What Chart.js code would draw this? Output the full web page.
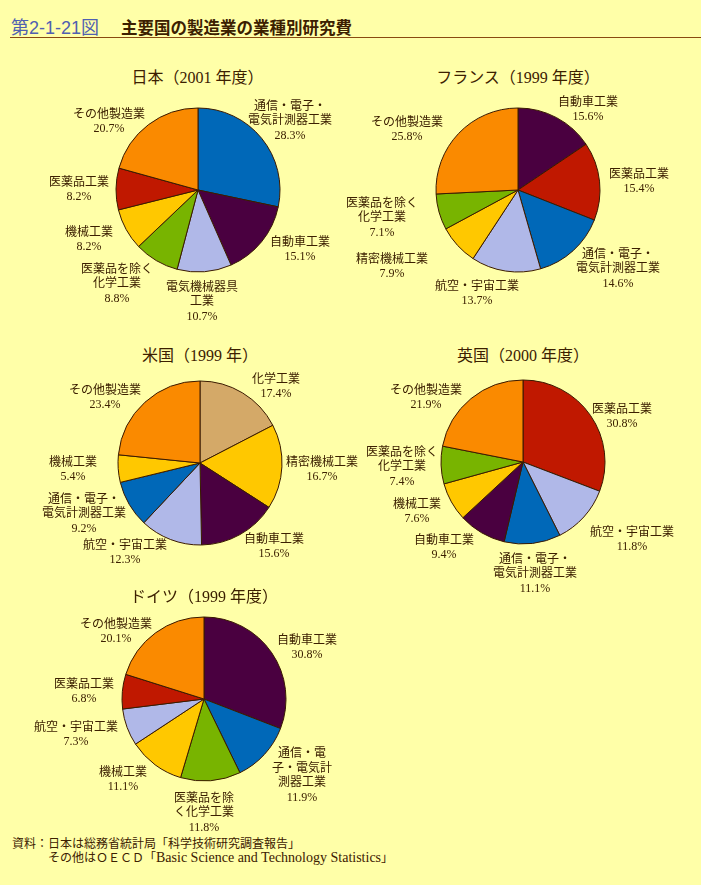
<!DOCTYPE html>
<html>
<head>
<meta charset="utf-8">
<script src="https://cdn.jsdelivr.net/npm/chart.js@4.4.0/dist/chart.umd.min.js"></script>
<style>
body{margin:0;background:#FFFFA8;width:701px;height:885px;position:relative;overflow:hidden;
  font-family:'Liberation Serif','Noto Sans CJK JP',serif;color:#3C2000;}
#head{position:absolute;left:11px;top:13px;font-family:'Noto Sans CJK JP',sans-serif;font-size:16.5px;font-weight:bold;white-space:nowrap;}
#head .no{font-family:'Liberation Sans','Noto Sans CJK JP',sans-serif;color:#5060B0;font-weight:normal;font-size:18px;margin-right:22px;}
#rule{position:absolute;left:10px;right:0;top:37px;border-top:1px solid #8A4A10;}
.ttl{position:absolute;font-size:16px;transform:translateX(-50%);white-space:nowrap;}
canvas{position:absolute;}
#foot{position:absolute;left:12px;top:837px;font-size:12px;line-height:14px;white-space:nowrap;}
#foot .l2{padding-left:36px;}
#foot .en{font-size:14px;}
</style>
</head>
<body>
<div id="head"><span class="no">第2-1-21図</span>主要国の製造業の業種別研究費</div>
<div id="rule"></div>
<div id="foot">資料：日本は総務省統計局「科学技術研究調査報告」<br><span class="l2">その他はＯＥＣＤ「<span class="en">Basic Science and Technology Statistics</span>」</span></div>

<script>
// colours by industry
var C_BLUE='#0068B8', C_PURPLE='#4A0040', C_LAV='#B0B8E8', C_GREEN='#78B400',
    C_YELLOW='#FFC800', C_RED='#C01800', C_ORANGE='#FA8A00', C_TAN='#D4A968';

// 日本（2001年度）
var jpLabels = ['通信・電子・\n電気計測器工業','自動車工業','電気機械器具\n工業','医薬品を除く\n化学工業','機械工業','医薬品工業','その他製造業'];
var jpValues = [28.3, 15.1, 10.7, 8.8, 8.2, 8.2, 20.7];
var jpColors = [C_BLUE, C_PURPLE, C_LAV, C_GREEN, C_YELLOW, C_RED, C_ORANGE];

// フランス（1999年度）
var frLabels = ['自動車工業','医薬品工業','通信・電子・\n電気計測器工業','航空・宇宙工業','精密機械工業','医薬品を除く\n化学工業','その他製造業'];
var frValues = [15.6, 15.4, 14.6, 13.7, 7.9, 7.1, 25.8];
var frColors = [C_PURPLE, C_RED, C_BLUE, C_LAV, C_YELLOW, C_GREEN, C_ORANGE];

// 米国（1999年）
var usLabels = ['化学工業','精密機械工業','自動車工業','航空・宇宙工業','通信・電子・\n電気計測器工業','機械工業','その他製造業'];
var usValues = [17.4, 16.7, 15.6, 12.3, 9.2, 5.4, 23.4];
var usColors = [C_TAN, C_YELLOW, C_PURPLE, C_LAV, C_BLUE, C_YELLOW, C_ORANGE];

// 英国（2000年度）
var ukLabels = ['医薬品工業','航空・宇宙工業','通信・電子・\n電気計測器工業','自動車工業','機械工業','医薬品を除く\n化学工業','その他製造業'];
var ukValues = [30.8, 11.8, 11.1, 9.4, 7.6, 7.4, 21.9];
var ukColors = [C_RED, C_LAV, C_BLUE, C_PURPLE, C_YELLOW, C_GREEN, C_ORANGE];

// ドイツ（1999年度）
var deLabels = ['自動車工業','通信・電\n子・電気計\n測器工業','医薬品を除\nく化学工業','機械工業','航空・宇宙工業','医薬品工業','その他製造業'];
var deValues = [30.8, 11.9, 11.8, 11.1, 7.3, 6.8, 20.1];
var deColors = [C_PURPLE, C_BLUE, C_GREEN, C_YELLOW, C_LAV, C_RED, C_ORANGE];

// where each label block sits, relative to the pie centre (layout only)
var jpLabelPos = [[92,-69],[102,60],[4,112],[-81,94],[-109,50],[-119,0],[-89,-68]];
var frLabelPos = [[70,-80],[121,-8],[100,79],[-41,104],[-126,77],[-136,28],[-111,-60]];
var usLabelPos = [[76,-76],[122,7],[74,84],[-75,90],[-116,51],[-127,7],[-95,-65]];
var ukLabelPos = [[99,-45],[109,78],[12,112],[-79,86],[-106,50],[-121,5],[-97,-64]];
var deLabelPos = [[103,-51],[98,77],[0,114],[-81,81],[-128,36],[-120,-7],[-88,-67]];

var W = 360, H = 270;

// labels outside each slice: name lines + percent
var outLabels = {
  id: 'outLabels',
  afterDatasetsDraw: function(chart, args, opts){
    var ctx = chart.ctx;
    var meta = chart.getDatasetMeta(0);
    var vals = chart.data.datasets[0].data;
    ctx.save();
    ctx.font = "12px 'Liberation Serif','Noto Sans CJK JP'";
    ctx.fillStyle = '#3C2000';
    ctx.textAlign = 'center';
    ctx.textBaseline = 'middle';
    var lh = 14.5;
    meta.data.forEach(function(arc, i){
      var p = arc.getProps(['x','y'], true);
      var lines = chart.data.labels[i].split('\n');
      lines.push(vals[i].toFixed(1) + '%');
      var h = lines.length * lh;
      var bx = p.x + opts.pos[i][0];
      var by = p.y + opts.pos[i][1];
      lines.forEach(function(s, k){
        ctx.fillText(s, bx, by - h/2 + lh/2 + k*lh);
      });
    });
    ctx.restore();
  }
};

function makePie(title, labels, values, colors, pos, cx, cy, ty){
  var t = document.createElement('div');
  t.className = 'ttl';
  t.style.left = cx + 'px';
  t.style.top = (ty - 11) + 'px';
  t.textContent = title;
  document.body.appendChild(t);

  var cv = document.createElement('canvas');
  cv.width = W; cv.height = H;
  cv.style.left = (cx - W/2) + 'px';
  cv.style.top = (cy - H/2) + 'px';
  document.body.appendChild(cv);

  new Chart(cv.getContext('2d'), {
    type: 'pie',
    data: {
      labels: labels,
      datasets: [{
        data: values,
        backgroundColor: colors,
        borderColor: '#3A1A00',
        borderWidth: 1,
        radius: 82
      }]
    },
    options: {
      responsive: false,
      animation: false,
      events: [],
      plugins: { legend: {display:false}, tooltip: {enabled:false}, outLabels: {pos: pos} }
    },
    plugins: [outLabels]
  });
}

makePie('日本（2001 年度）', jpLabels, jpValues, jpColors, jpLabelPos, 197.5, 190, 75);
makePie('フランス（1999 年度）', frLabels, frValues, frColors, frLabelPos, 518, 190, 75);
makePie('米国（1999 年）', usLabels, usValues, usColors, usLabelPos, 200, 463, 353);
makePie('英国（2000 年度）', ukLabels, ukValues, ukColors, ukLabelPos, 523, 462, 353);
makePie('ドイツ（1999 年度）', deLabels, deValues, deColors, deLabelPos, 204, 699, 594);
</script>
</body>
</html>
